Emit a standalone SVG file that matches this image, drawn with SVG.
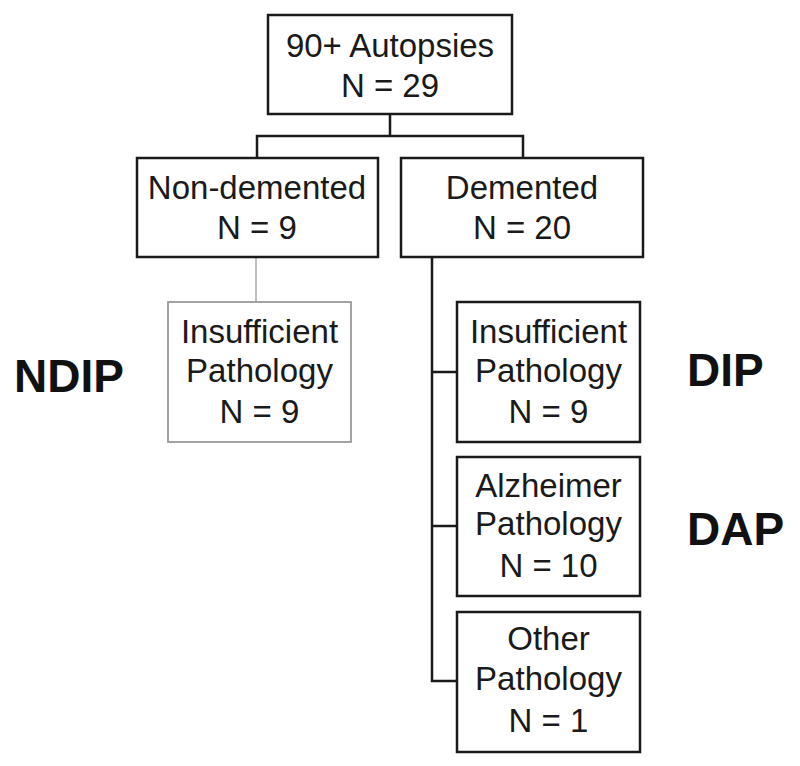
<svg xmlns="http://www.w3.org/2000/svg" width="800" height="766" viewBox="0 0 800 766">
<style>
.box{fill:#fff;stroke:#1a1a1a;stroke-width:2.5}
.gbox{fill:#fff;stroke:#9a9a9a;stroke-width:1.8}
.t{font-family:"Liberation Sans",Arial,sans-serif;font-size:33px;fill:#1a1a1a;text-anchor:middle}
.lab{font-family:"Liberation Sans",Arial,sans-serif;font-size:46px;font-weight:bold;fill:#111}
.c{fill:none;stroke:#1a1a1a;stroke-width:2.5}
.gc{fill:none;stroke:#a8a8a8;stroke-width:1.5}
</style>
<rect width="800" height="766" fill="#fff"/>
<g id="connectors">
<path class="c" d="M390,114 V136 M257,158 V136 H523 V158"/>
<path class="gc" d="M256,257 V302"/>
<path class="c" d="M432,257 V681 H457 M432,372 H457 M432,526 H457"/>
</g>
<g id="root">
<rect class="box" x="268" y="15" width="244" height="99"/>
<text class="t" x="390" y="57">90+ Autopsies</text>
<text class="t" x="390" y="97">N = 29</text>
</g>
<g id="nondemented">
<rect class="box" x="137" y="158" width="241" height="99"/>
<text class="t" x="257" y="199">Non-demented</text>
<text class="t" x="257" y="239">N = 9</text>
</g>
<g id="demented">
<rect class="box" x="401" y="158" width="242" height="99"/>
<text class="t" x="522" y="199">Demented</text>
<text class="t" x="522" y="239">N = 20</text>
</g>
<g id="ndip-box">
<rect class="gbox" x="168" y="302" width="183" height="140"/>
<text class="t" x="259.5" y="343">Insufficient</text>
<text class="t" x="259.5" y="382">Pathology</text>
<text class="t" x="259.5" y="423">N = 9</text>
</g>
<g id="dip-box">
<rect class="box" x="457" y="302" width="183" height="140"/>
<text class="t" x="548.5" y="343">Insufficient</text>
<text class="t" x="548.5" y="382">Pathology</text>
<text class="t" x="548.5" y="423">N = 9</text>
</g>
<g id="dap-box">
<rect class="box" x="457" y="457" width="183" height="139"/>
<text class="t" x="548.5" y="497">Alzheimer</text>
<text class="t" x="548.5" y="535">Pathology</text>
<text class="t" x="548.5" y="577">N = 10</text>
</g>
<g id="other-box">
<rect class="box" x="457" y="612" width="183" height="140"/>
<text class="t" x="548.5" y="650">Other</text>
<text class="t" x="548.5" y="690">Pathology</text>
<text class="t" x="548.5" y="732">N = 1</text>
</g>
<g id="labels">
<text class="lab" x="14" y="392">NDIP</text>
<text class="lab" x="687" y="386">DIP</text>
<text class="lab" x="687" y="545">DAP</text>
</g>
</svg>
